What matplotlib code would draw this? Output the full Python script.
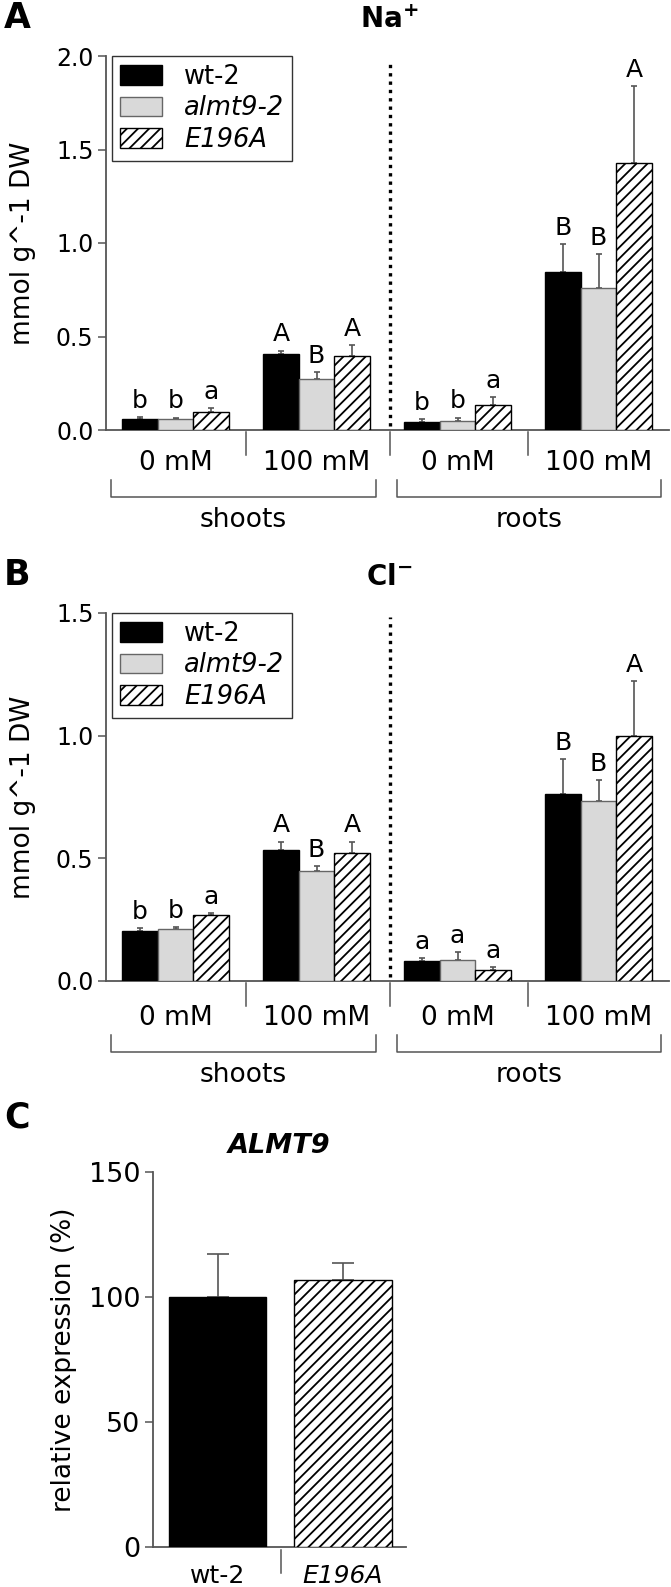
import numpy as np
import matplotlib
matplotlib.use("Agg")
from matplotlib import pyplot as plt
from matplotlib import transforms

# groups on the x axis of panels A and B
groups = ["0 mM", "100 mM", "0 mM", "100 mM"]
tissues = ["shoots", "roots"]
genotypes = ["wt-2", "almt9-2", "E196A"]

# Na+ content (mmol g^-1 DW), order: shoots 0, shoots 100, roots 0, roots 100
na_wt = [0.059, 0.409, 0.044, 0.847]
na_wt_err = [0.012, 0.016, 0.015, 0.148]
na_almt = [0.059, 0.275, 0.050, 0.758]
na_almt_err = [0.007, 0.036, 0.016, 0.182]
na_e196a = [0.098, 0.394, 0.133, 1.426]
na_e196a_err = [0.021, 0.059, 0.045, 0.412]
na_letters = [["b", "A", "b", "B"], ["b", "B", "b", "B"], ["a", "A", "a", "A"]]

# Cl- content
cl_wt = [0.204, 0.534, 0.081, 0.762]
cl_wt_err = [0.011, 0.034, 0.011, 0.143]
cl_almt = [0.210, 0.448, 0.085, 0.732]
cl_almt_err = [0.010, 0.019, 0.034, 0.086]
cl_e196a = [0.269, 0.521, 0.046, 0.997]
cl_e196a_err = [0.007, 0.047, 0.012, 0.227]
cl_letters = [["b", "A", "a", "B"], ["b", "B", "a", "B"], ["a", "A", "a", "A"]]

# ALMT9 relative expression (%)
expr_labels = ["wt-2", "E196A"]
expr = [100, 106.8]
expr_err = [17.2, 6.7]

plt.rcParams["font.family"] = ["DejaVu Sans"]
plt.rcParams["hatch.linewidth"] = 1.3

W, H = 671, 1587
fig = plt.figure(figsize=(W / 100, H / 100), dpi=100)

def fy(py):
    return 1 - py / H

AXC = "#555555"
styles = [dict(color="black", edgecolor="black"),
          dict(color="#d9d9d9", edgecolor="#666666"),
          dict(color="white", edgecolor="black", hatch="///")]


def style_axis(ax):
    for s in ["top", "right"]:
        ax.spines[s].set_visible(False)
    for s in ["left", "bottom"]:
        ax.spines[s].set_color(AXC)
        ax.spines[s].set_linewidth(1.3)
    ax.tick_params(axis="y", length=6, width=1.1, color=AXC, labelsize=17, pad=3)


def ion_panel(top_px, bot_px, vals, errs, letters, ymax, yticks, title, letter, extra=0):
    ax = fig.add_axes([106 / W, fy(bot_px), 563 / W, (bot_px - top_px) / H])
    x = np.arange(len(groups))
    bw = 0.252
    bars = []
    for i in range(3):
        xs = x + (i - 1) * bw
        b = ax.bar(xs, vals[i], bw, linewidth=1, label=genotypes[i], zorder=3, **styles[i])
        bars.append(b)
        ax.errorbar(xs, vals[i], yerr=[np.zeros(len(xs)), errs[i]], fmt="none",
                    ecolor=AXC, elinewidth=1.2, capsize=2.5, capthick=1.2, zorder=2)
        for xi, v, e, t in zip(xs, vals[i], errs[i], letters[i]):
            ax.annotate(t, (xi, v + e), xytext=(0, 3), textcoords="offset points",
                        ha="center", va="bottom", fontsize=18)
    ax.set_xlim(-0.493, 3.5)
    ax.set_ylim(0, ymax)
    ax.set_yticks(yticks)
    ax.set_yticklabels([f"{t:.1f}" for t in yticks])
    ax.set_xticks([])
    style_axis(ax)
    ax.set_ylabel("mmol g^-1 DW", fontsize=19)
    ax.yaxis.set_label_coords(-0.125, 0.5)
    # dotted separation between shoots and roots
    ax.plot([1.52, 1.52], [0.01 * ymax, 0.99 * ymax], color="black", lw=2.4,
            linestyle=(0, (1, 1.5)), zorder=4)

    tr = transforms.blended_transform_factory(ax.transData, fig.transFigure)
    off = bot_px - 430
    for sx in [0.5, 1.52, 2.5]:
        ax.plot([sx, sx], [fy(432 + off), fy(455 + off)], color=AXC, lw=1.1,
                transform=tr, clip_on=False)
    for xi, g in zip(x, groups):
        ax.text(xi, fy(463 + off + extra), g, transform=tr, ha="center", va="center",
                fontsize=19)
    for (x0, x1), t in zip([(-0.457, 1.42), (1.57, 3.44)], tissues):
        yb = [fy(480 + off + extra), fy(497 + off + extra)]
        ax.plot([x0, x0, x1, x1], [yb[0], yb[1], yb[1], yb[0]],
                color=AXC, lw=1.1, transform=tr, clip_on=False)
        ax.text((x0 + x1) / 2, fy(520 + off + extra), t, transform=tr, ha="center",
                va="center", fontsize=19)

    leg = ax.legend(handles=bars, loc="upper left", bbox_to_anchor=(0.011, 1.0),
                    borderaxespad=0, fontsize=18.5, frameon=True, fancybox=False,
                    handlelength=1.65, handleheight=0.8, handletextpad=0.85,
                    labelspacing=0.22, borderpad=0.3)
    leg.get_frame().set_edgecolor("black")
    leg.get_frame().set_linewidth(1.0)
    for i, txt in enumerate(leg.get_texts()):
        if i > 0:
            txt.set_style("italic")

    fig.text(389 / W, fy(top_px - 36), title, ha="center", va="center", fontsize=20,
             fontweight="bold")
    fig.text(17 / W, fy(top_px - 38), letter, ha="center", va="center", fontsize=25,
             fontweight="bold")
    return ax


ion_panel(56, 430, [na_wt, na_almt, na_e196a], [na_wt_err, na_almt_err, na_e196a_err],
          na_letters, 2.0, [0.0, 0.5, 1.0, 1.5, 2.0], r"Na$^{\mathbf{+}}$", "A")
ion_panel(613, 981, [cl_wt, cl_almt, cl_e196a], [cl_wt_err, cl_almt_err, cl_e196a_err],
          cl_letters, 1.5, [0.0, 0.5, 1.0, 1.5], r"Cl$^{\mathbf{-}}$", "B", extra=4)

# panel C
axc = fig.add_axes([153 / W, fy(1547), 253 / W, 375 / H])
xc = np.arange(len(expr_labels))
axc.bar(xc[0], expr[0], 0.773, color="black", edgecolor="black", lw=1, zorder=3)
axc.bar(xc[1], expr[1], 0.773, color="white", edgecolor="black", hatch="///", lw=1, zorder=3)
axc.errorbar(xc, expr, yerr=[np.zeros(2), expr_err], fmt="none", ecolor=AXC,
             elinewidth=1.2, capsize=8, capthick=1.2, zorder=2)
axc.set_xlim(-0.514, 1.502)
axc.set_ylim(0, 150)
axc.set_yticks([0, 50, 100, 150])
style_axis(axc)
axc.tick_params(axis="y", labelsize=19.5)
axc.set_xticks(xc)
axc.set_xticklabels(expr_labels, fontsize=18)
axc.get_xticklabels()[1].set_style("italic")
axc.tick_params(axis="x", length=0, pad=12)
trc = transforms.blended_transform_factory(axc.transData, fig.transFigure)
axc.plot([0.506, 0.506], [fy(1550), fy(1573)], color=AXC, lw=1.1, transform=trc, clip_on=False)
axc.set_ylabel("relative expression (%)", fontsize=19)
axc.yaxis.set_label_coords(-0.30, 0.5)
fig.text(279 / W, fy(1146), "ALMT9", ha="center", va="center", fontsize=19.5,
         fontweight="bold", style="italic")
fig.text(17 / W, fy(1118), "C", ha="center", va="center", fontsize=25, fontweight="bold")

fig.savefig("out.png", dpi=100)
